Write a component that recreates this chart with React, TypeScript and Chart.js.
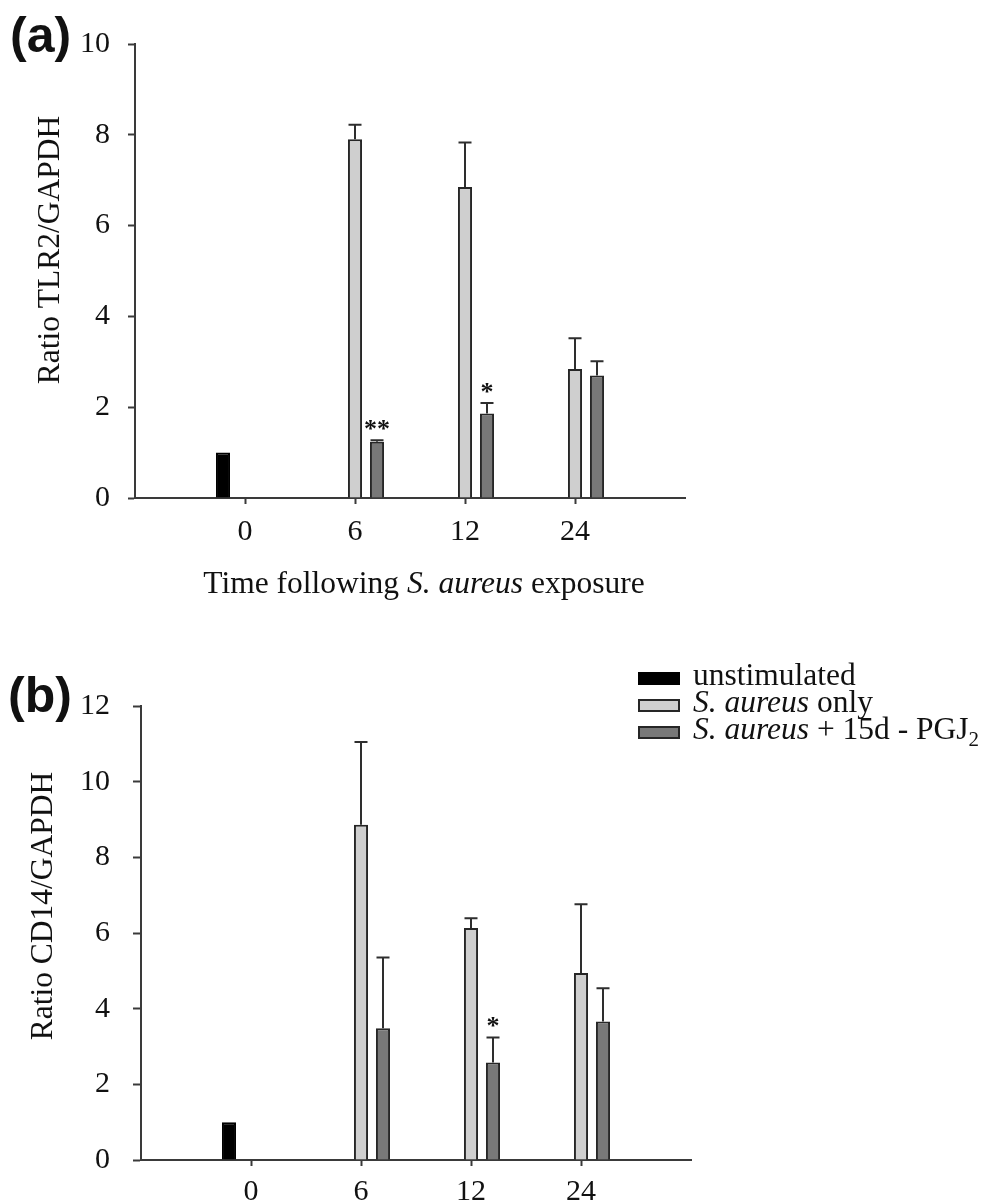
import React, { useEffect, useRef } from 'react';
import { Chart, registerables } from 'chart.js';

Chart.register(...registerables);

// ---------- data ----------
const categories = ['0', '6', '12', '24'];
const seriesNames = ['unstimulated', 'S. aureus only', 'S. aureus + 15d - PGJ2'];

// (a) TLR2 / GAPDH
const tlr2Unstimulated = [1.0, null, null, null];
const tlr2SAureus = [null, 7.9, 6.85, 2.84];
const tlr2SAureusErr = [null, 0.32, 0.98, 0.68];
const tlr2PGJ2 = [null, 1.24, 1.86, 2.7];
const tlr2PGJ2Err = [null, 0.03, 0.23, 0.31];
const tlr2Significance = ['', '**', '*', ''];

// (b) CD14 / GAPDH
const cd14Unstimulated = [1.0, null, null, null];
const cd14SAureus = [null, 8.86, 6.13, 4.94];
const cd14SAureusErr = [null, 2.19, 0.26, 1.82];
const cd14PGJ2 = [null, 3.48, 2.58, 3.66];
const cd14PGJ2Err = [null, 1.87, 0.66, 0.88];
const cd14Significance = ['', '', '*', ''];

const tlr2YMax = 10;
const cd14YMax = 12;
const yStep = 2;

// ---------- styles ----------
const seriesFill = ['#000000', '#cfcfcf', '#787878'];
const seriesBorder = ['#000000', '#262626', '#262626'];
const axisColor = '#3a3a3a';
const textColor = '#111111';
const serif = '"Liberation Serif", "Times New Roman", serif';
const FS = 30;
const TFS = 31.5;

type Part = { t: string; i?: boolean; sub?: boolean };

const xTitleParts: Part[] = [
  { t: 'Time following ' },
  { t: 'S. aureus', i: true },
  { t: ' exposure' },
];

const legendParts: Part[][] = [
  [{ t: 'unstimulated' }],
  [{ t: 'S. aureus', i: true }, { t: ' only' }],
  [{ t: 'S. aureus', i: true }, { t: ' + 15d - PGJ' }, { t: '2', sub: true }],
];

function fontFor(p: Part, size: number) {
  const s = p.sub ? Math.round(size * 0.66) : size;
  return `${p.i ? 'italic ' : ''}${s}px ${serif}`;
}

function drawRich(ctx: CanvasRenderingContext2D, parts: Part[], x: number, y: number, size: number, align: 'left' | 'center') {
  let total = 0;
  parts.forEach((p) => {
    ctx.font = fontFor(p, size);
    total += ctx.measureText(p.t).width;
  });
  let cx = align === 'center' ? x - total / 2 : x;
  ctx.textAlign = 'left';
  ctx.textBaseline = 'alphabetic';
  parts.forEach((p) => {
    ctx.font = fontFor(p, size);
    ctx.fillText(p.t, cx, p.sub ? y + size * 0.22 : y);
    cx += ctx.measureText(p.t).width;
  });
}

type PanelCfg = {
  key: string;
  top: number;
  height: number;
  left: number;
  areaTop: number;
  areaRight: number;
  areaBottom: number;
  yMax: number;
  yTickLen: number;
  yTickPad: number;
  xTickLen: number;
  xTickPad: number;
  yTitle: string;
  yTitleX: number;
  yTitleY: number;
  panelLabel: string;
  panelLabelX: number;
  panelLabelY: number;
  xTitleY: number | null;
  legendY: number | null;
  series: { values: (number | null)[]; errors?: (number | null)[]; sig?: string[] }[];
};

const panels: PanelCfg[] = [
  {
    key: 'a',
    top: 0,
    height: 620,
    left: 135,
    areaTop: 44,
    areaRight: 685,
    areaBottom: 498,
    yMax: tlr2YMax,
    yTickLen: 7,
    yTickPad: 18,
    xTickLen: 6,
    xTickPad: 10,
    yTitle: 'Ratio TLR2/GAPDH',
    yTitleX: 59,
    yTitleY: 250,
    panelLabel: '(a)',
    panelLabelX: 10,
    panelLabelY: 52,
    xTitleY: 593,
    legendY: null,
    series: [
      { values: tlr2Unstimulated },
      { values: tlr2SAureus, errors: tlr2SAureusErr },
      { values: tlr2PGJ2, errors: tlr2PGJ2Err, sig: tlr2Significance },
    ],
  },
  {
    key: 'b',
    top: 620,
    height: 583,
    left: 141,
    areaTop: 86,
    areaRight: 691,
    areaBottom: 540,
    yMax: cd14YMax,
    yTickLen: 8,
    yTickPad: 23,
    xTickLen: 6,
    xTickPad: 8,
    yTitle: 'Ratio CD14/GAPDH',
    yTitleX: 52,
    yTitleY: 286,
    panelLabel: '(b)',
    panelLabelX: 8,
    panelLabelY: 92,
    xTitleY: null,
    legendY: 65,
    series: [
      { values: cd14Unstimulated },
      { values: cd14SAureus, errors: cd14SAureusErr },
      { values: cd14PGJ2, errors: cd14PGJ2Err, sig: cd14Significance },
    ],
  },
];

function decorPlugin(p: PanelCfg) {
  return {
    id: 'decor' + p.key,
    afterDatasetsDraw(chart: any) {
      const ctx: CanvasRenderingContext2D = chart.ctx;
      const yScale = chart.scales.y;
      ctx.save();
      chart.data.datasets.forEach((ds: any, di: number) => {
        const meta = chart.getDatasetMeta(di);
        meta.data.forEach((el: any, j: number) => {
          const d = ds.data[j];
          if (!d) return;
          let topPx = el.y;
          if (d.e != null) {
            topPx = yScale.getPixelForValue(d.y + d.e);
            ctx.strokeStyle = '#2e2e2e';
            ctx.lineWidth = 2;
            ctx.beginPath();
            ctx.moveTo(el.x, el.y);
            ctx.lineTo(el.x, topPx);
            ctx.moveTo(el.x - 6.5, topPx);
            ctx.lineTo(el.x + 6.5, topPx);
            ctx.stroke();
          }
          if (d.s) {
            ctx.fillStyle = textColor;
            ctx.font = `bold 26px ${serif}`;
            ctx.textAlign = 'center';
            ctx.textBaseline = 'alphabetic';
            const m = ctx.measureText(d.s);
            const cy = topPx - 15;
            ctx.fillText(d.s, el.x, cy + (m.actualBoundingBoxAscent - m.actualBoundingBoxDescent) / 2);
          }
        });
      });
      ctx.restore();
    },
    afterDraw(chart: any) {
      const ctx: CanvasRenderingContext2D = chart.ctx;
      ctx.save();
      ctx.fillStyle = textColor;
      ctx.font = `bold 50px "Liberation Sans", Arial, sans-serif`;
      ctx.textAlign = 'left';
      ctx.textBaseline = 'alphabetic';
      ctx.fillText(p.panelLabel, p.panelLabelX, p.panelLabelY);
      ctx.save();
      ctx.translate(p.yTitleX, p.yTitleY);
      ctx.rotate(-Math.PI / 2);
      ctx.font = `${TFS}px ${serif}`;
      ctx.textAlign = 'center';
      ctx.textBaseline = 'alphabetic';
      ctx.fillText(p.yTitle, 0, 0);
      ctx.restore();
      if (p.xTitleY != null) {
        const xs = chart.scales.x;
        const cx = (xs.getPixelForValue(0) + xs.getPixelForValue(categories.length - 1)) / 2 + 14;
        drawRich(ctx, xTitleParts, cx, p.xTitleY, TFS, 'center');
      }
      if (p.legendY != null) {
        chart.data.datasets.forEach((ds: any, k: number) => {
          const base = p.legendY! + k * 27;
          ctx.fillStyle = ds.backgroundColor;
          ctx.fillRect(638, base - 13, 42, 13);
          ctx.strokeStyle = ds.borderColor;
          ctx.lineWidth = 2;
          ctx.strokeRect(639, base - 12, 40, 11);
          ctx.fillStyle = textColor;
          drawRich(ctx, legendParts[k], 693, base, TFS, 'left');
        });
      }
      ctx.restore();
    },
  };
}

function buildConfig(p: PanelCfg): any {
  const datasets = p.series.map((s, k) => ({
    label: seriesNames[k],
    data: s.values
      .map((v, i) => (v == null ? null : { x: i, y: v, e: s.errors ? s.errors[i] : null, s: s.sig ? s.sig[i] : '' }))
      .filter((d) => d !== null),
    backgroundColor: seriesFill[k],
    borderColor: seriesBorder[k],
    borderWidth: 2,
    categoryPercentage: 0.6,
    barPercentage: 0.64,
  }));
  const tickFont = { family: serif, size: FS };
  return {
    type: 'bar',
    data: { datasets },
    options: {
      animation: false,
      responsive: false,
      devicePixelRatio: 1,
      events: [],
      layout: { padding: { left: 0, top: p.areaTop, right: 984 - p.areaRight, bottom: 0 } },
      plugins: { legend: { display: false }, tooltip: { enabled: false }, title: { display: false } },
      scales: {
        x: {
          type: 'linear',
          min: -1,
          max: categories.length,
          bounds: 'data',
          offset: false,
          afterBuildTicks: (axis: any) => {
            axis.ticks = categories.map((_, i) => ({ value: i }));
          },
          afterFit: (s: any) => {
            s.height = p.height - p.areaBottom;
          },
          ticks: {
            callback: (v: number) => categories[v] ?? '',
            font: tickFont,
            color: textColor,
            padding: p.xTickPad,
            maxRotation: 0,
            autoSkip: false,
          },
          grid: { offset: false, drawOnChartArea: false, drawTicks: true, tickLength: p.xTickLen, tickWidth: 2, tickColor: axisColor },
          border: { display: true, color: axisColor, width: 2 },
        },
        y: {
          type: 'linear',
          min: 0,
          max: p.yMax,
          afterFit: (s: any) => {
            s.width = p.left;
          },
          ticks: { stepSize: yStep, font: tickFont, color: textColor, padding: p.yTickPad },
          grid: { drawOnChartArea: false, drawTicks: true, tickLength: p.yTickLen, tickWidth: 2, tickColor: axisColor },
          border: { display: true, color: axisColor, width: 2 },
        },
      },
    },
    plugins: [decorPlugin(p)],
  };
}

function Panel({ cfg }: { cfg: PanelCfg }) {
  const ref = useRef<HTMLCanvasElement>(null);
  useEffect(() => {
    const chart = new Chart(ref.current as HTMLCanvasElement, buildConfig(cfg));
    return () => chart.destroy();
  }, [cfg]);
  return (
    <canvas
      ref={ref}
      width={984}
      height={cfg.height}
      style={{ position: 'absolute', left: 0, top: cfg.top, width: 984, height: cfg.height, display: 'block' }}
    />
  );
}

export default function App() {
  return (
    <div style={{ position: 'absolute', left: 0, top: 0, width: 984, height: 1203, background: '#ffffff' }}>
      {panels.map((p) => (
        <Panel key={p.key} cfg={p} />
      ))}
    </div>
  );
}
